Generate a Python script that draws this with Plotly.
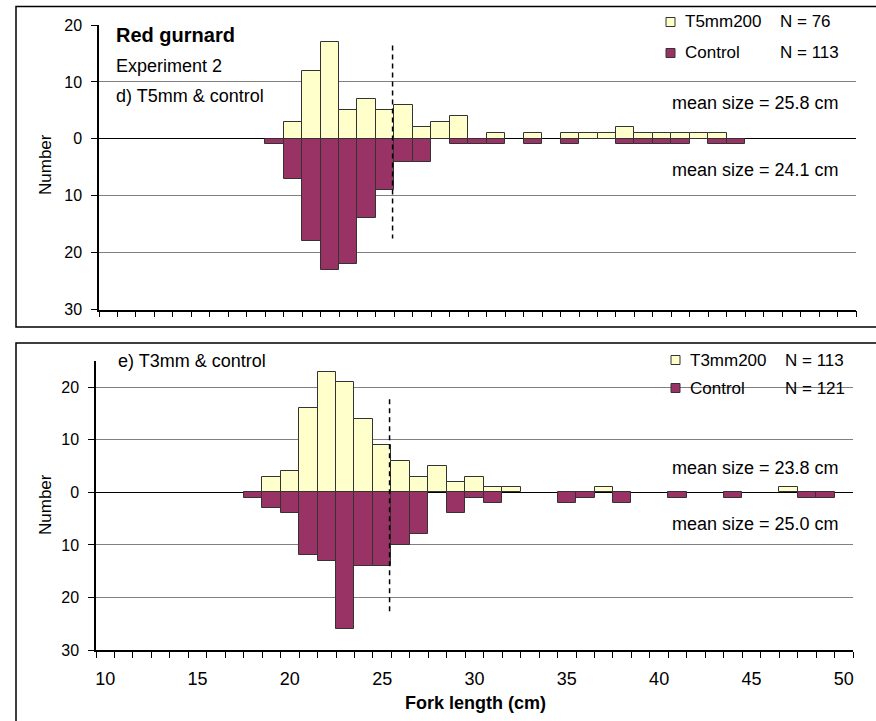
import plotly.graph_objects as go

# Experiment 2, panel d: T5mm200 vs control
top_lengths = list(range(19, 45))
t5_counts = [0, 3, 12, 17, 5, 7, 5, 6, 2, 3, 4, 0, 1, 0, 1, 0, 1, 1, 1, 2, 1, 1, 1, 1, 1, 0]
top_control_counts = [1, 7, 18, 23, 22, 14, 9, 4, 4, 0, 1, 1, 1, 0, 1, 0, 1, 0, 0, 1, 1, 1, 1, 0, 1, 1]

# Experiment 2, panel e: T3mm200 vs control
bottom_lengths = list(range(18, 50))
t3_counts = [0, 3, 4, 16, 23, 21, 14, 9, 6, 3, 5, 2, 3, 1, 1, 0, 0, 0, 0, 1, 0, 0, 0, 0, 0, 0, 0, 0, 0, 1, 0, 0]
bottom_control_counts = [1, 3, 4, 12, 13, 26, 14, 14, 10, 8, 0, 4, 1, 2, 0, 0, 0, 2, 1, 0, 2, 0, 0, 1, 0, 0, 1, 0, 0, 0, 1, 1]

# dashed reference line (fork length) and its vertical extent in each panel
ref_length = 25.4
top_ref_span = [16.4, -17.5]
bottom_ref_span = [17.7, -23.4]

x_tick_values = [10, 15, 20, 25, 30, 35, 40, 45, 50]
y_tick_values = [20, 10, 0, -10, -20, -30]
y_tick_text = ["20", "10", "0", "10", "20", "30"]

W, H = 876, 721
FONT = "Liberation Sans, Arial, sans-serif"
YELLOW = "#FFFFCC"
MAROON = "#993366"
EDGE = "#333333"


def px(x):
    return x / W


def py(y):
    return 1 - y / H


def nz(values, sign=1):
    return [sign * v if v else None for v in values]


fig = go.Figure()

panels = [
    (top_lengths, t5_counts, top_control_counts, top_ref_span, "x", "y"),
    (bottom_lengths, t3_counts, bottom_control_counts, bottom_ref_span, "x2", "y2"),
]

for lengths, treat, control, span, xa, ya in panels:
    fig.add_trace(go.Bar(
        x=lengths, y=nz(treat), width=1,
        marker=dict(color=YELLOW, line=dict(color=EDGE, width=1)),
        xaxis=xa, yaxis=ya, showlegend=False
    ))
    fig.add_trace(go.Bar(
        x=lengths, y=nz(control, -1), width=1,
        marker=dict(color=MAROON, line=dict(color=EDGE, width=1)),
        xaxis=xa, yaxis=ya, showlegend=False
    ))
    fig.add_trace(go.Scatter(
        x=[ref_length, ref_length], y=span, mode="lines",
        line=dict(color="black", width=1.5, dash="5px,4px"),
        xaxis=xa, yaxis=ya, showlegend=False
    ))

xaxis_common = dict(
    range=[9.5, 50.5],
    tickvals=x_tick_values,
    ticks="",
    showgrid=False,
    zeroline=False,
    showline=True,
    linecolor="black",
    linewidth=1.5,
    automargin=False,
    minor=dict(ticks="outside", ticklen=6, tickcolor="black", tickwidth=1,
               tick0=9.5, dtick=1, showgrid=False),
    tickfont=dict(family=FONT, size=18, color="black"),
)

yaxis_common = dict(
    tickvals=y_tick_values,
    ticktext=y_tick_text,
    ticks="outside",
    ticklen=6,
    tickcolor="black",
    showgrid=True,
    gridcolor="#808080",
    gridwidth=1,
    zeroline=True,
    zerolinecolor="black",
    zerolinewidth=1,
    showline=True,
    linecolor="black",
    linewidth=1.5,
    automargin=False,
    ticklabelstandoff=6,
    tickfont=dict(family=FONT, size=16, color="black"),
)

fig.update_layout(
    width=W,
    height=H,
    margin=dict(l=0, r=0, t=0, b=0, autoexpand=False),
    paper_bgcolor="white",
    plot_bgcolor="white",
    barmode="relative",
    bargap=0,
    hovermode=False,
    xaxis=dict(xaxis_common, domain=[px(99), px(856)], anchor="y", showticklabels=False),
    yaxis=dict(yaxis_common, domain=[py(309.5), py(25)], range=[-30, 20], anchor="x"),
    xaxis2=dict(xaxis_common, domain=[px(96), px(853)], anchor="y2", ticklabelstandoff=12),
    yaxis2=dict(yaxis_common, domain=[py(650), py(361)], range=[-30, 25], anchor="x2"),
)

# panel frames
fig.add_shape(type="rect", xref="paper", yref="paper",
              x0=px(16), x1=1.05, y0=py(327), y1=py(6.5),
              line=dict(color="black", width=1.5))
fig.add_shape(type="rect", xref="paper", yref="paper",
              x0=px(16), x1=1.05, y0=-0.05, y1=py(343),
              line=dict(color="black", width=1.5))


def label(text, x, y, size=17, xanchor="left", bold=False, angle=0):
    if bold:
        text = "<b>" + text + "</b>"
    fig.add_annotation(
        text=text, x=px(x), y=py(y), xref="paper", yref="paper",
        xanchor=xanchor, yanchor="middle", showarrow=False, textangle=angle,
        font=dict(family=FONT, size=size, color="black")
    )


def legend_box(x, y, color):
    fig.add_shape(type="rect", xref="paper", yref="paper",
                  x0=px(x), x1=px(x + 9), y0=py(y + 4.5), y1=py(y - 4.5),
                  fillcolor=color, line=dict(color=EDGE, width=1))


# top panel text
label("Red gurnard", 114, 35, size=20, bold=True)
label("Experiment 2", 114, 66, size=18)
label("d) T5mm &amp; control", 114, 96, size=18)
label("mean size = 25.8 cm", 841, 103, size=18, xanchor="right")
label("mean size = 24.1 cm", 841, 170, size=18, xanchor="right")
legend_box(666, 22, YELLOW)
legend_box(666, 53, MAROON)
label("T5mm200", 683, 22)
label("N = 76", 778, 22)
label("Control", 683, 53)
label("N = 113", 778, 53)
label("Number", 45, 165, size=17, xanchor="center", angle=-90)

# bottom panel text
label("e) T3mm &amp; control", 116, 361, size=18)
label("mean size = 23.8 cm", 841, 468, size=18, xanchor="right")
label("mean size = 25.0 cm", 841, 524, size=18, xanchor="right")
legend_box(671, 360, YELLOW)
legend_box(671, 388, MAROON)
label("T3mm200", 688, 360)
label("N = 113", 783, 360)
label("Control", 688, 388)
label("N = 121", 783, 388)
label("Number", 45, 505, size=17, xanchor="center", angle=-90)
label("Fork length (cm)", 475, 703, size=18, xanchor="center", bold=True)

fig.write_html("out.html", config={"displayModeBar": False},
               post_script="document.body.style.margin='0';")
